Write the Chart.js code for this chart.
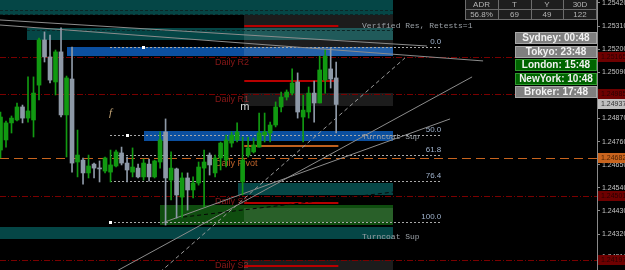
<!DOCTYPE html>
<html>
<head>
<meta charset="utf-8">
<script src="https://cdn.jsdelivr.net/npm/chart.js@4.4.1/dist/chart.umd.min.js"></script>
<style>
html, body { margin: 0; padding: 0; background: #000; }
#wrap { width: 625px; height: 270px; position: relative; }
</style>
</head>
<body>
<div id="wrap"><canvas id="chart"></canvas></div>
<script>
// candles, index 0 = leftmost bar on screen
var opens  = [1.24720,1.24768,1.24849,1.24863,1.24925,1.24872,1.24863,1.25029,1.25244,1.25163,
              1.25044,1.25187,1.24887,1.25058,1.24663,1.24672,1.24611,1.24653,1.24634,1.24620,
              1.24615,1.24644,1.24706,1.24658,1.24615,1.24634,1.24592,1.24653,1.24592,1.24663,
              1.24806,1.24577,1.24630,1.24496,1.24587,1.24530,1.24563,1.24634,1.24696,1.24611,
              1.24682,1.24672,1.24753,1.24768,1.24568,1.24696,1.24711,1.24734,1.24791,1.24801,
              1.24839,1.24925,1.24972,1.24991,1.25044,1.24877,1.24901,1.24991,1.24944,1.25053,
              1.25106,1.25063];
var highs  = [1.24901,1.24858,1.24882,1.24944,1.24934,1.25068,1.25068,1.25253,1.25282,1.25267,
              1.25196,1.25301,1.25072,1.25210,1.24815,1.24682,1.24696,1.24658,1.24668,1.24687,
              1.24720,1.24720,1.24734,1.24687,1.24730,1.24653,1.24677,1.24677,1.24672,1.24806,
              1.24868,1.24711,1.24634,1.24611,1.24611,1.24592,1.24663,1.24720,1.24706,1.24696,
              1.24758,1.24791,1.24806,1.24849,1.24782,1.24782,1.24777,1.24896,1.24896,1.24853,
              1.24949,1.24996,1.25006,1.25106,1.25087,1.24982,1.25020,1.25048,1.25167,1.25196,
              1.25206,1.25139];
var lows   = [1.24682,1.24734,1.24801,1.24858,1.24849,1.24853,1.24782,1.24958,1.25139,1.25039,
              1.24982,1.24877,1.24687,1.24615,1.24592,1.24558,1.24587,1.24587,1.24568,1.24611,
              1.24568,1.24639,1.24649,1.24568,1.24592,1.24587,1.24577,1.24572,1.24587,1.24634,
              1.24363,1.24482,1.24396,1.24401,1.24434,1.24492,1.24553,1.24449,1.24601,1.24592,
              1.24625,1.24639,1.24734,1.24758,1.24506,1.24687,1.24706,1.24734,1.24758,1.24758,
              1.24830,1.24901,1.24958,1.24982,1.24872,1.24758,1.24872,1.24853,1.24944,1.24991,
              1.25015,1.24801];
var closes = [1.24877,1.24849,1.24872,1.24925,1.24872,1.24906,1.24991,1.25244,1.25163,1.25053,
              1.25187,1.24887,1.25063,1.24658,1.24696,1.24611,1.24644,1.24634,1.24630,1.24682,
              1.24649,1.24711,1.24658,1.24625,1.24639,1.24592,1.24658,1.24592,1.24668,1.24768,
              1.24587,1.24634,1.24506,1.24587,1.24530,1.24563,1.24639,1.24663,1.24649,1.24682,
              1.24753,1.24768,1.24791,1.24806,1.24672,1.24730,1.24744,1.24801,1.24806,1.24839,
              1.24925,1.24972,1.24996,1.25039,1.24901,1.24910,1.24991,1.24944,1.25101,1.25167,
              1.25058,1.24937];

var priceTicks = [1.25420,1.25310,1.25200,1.25090,1.24980,1.24870,1.24760,1.24650,1.24540,1.24430,1.24320,1.24210];

// daily pivots
var pivotNames  = ['Daily R2','Daily R1','Daily Pivot','Daily S1','Daily S2'];
var pivotLevels = [1.25165,1.24985,1.24682,1.24501,1.24197];

// fibonacci retracement
var fibRatios = [0.0,50.0,61.8,76.4,100.0];
var fibHigh = 1.25210, fibLow = 1.24377;

// supply / demand zones: [fromBar, toBar, top, bottom]
var tealZones  = [[-1,71.4,1.25460,1.25363],[4.8,71.4,1.25301,1.25244],[43.2,71.4,1.24563,1.24506],[-1,71.4,1.24353,1.24296]];
var blueZones  = [[12.1,71.4,1.25210,1.25167],[26.1,71.4,1.24810,1.24763]];
var greenZones = [[29,71.4,1.24458,1.24363]];
var rangeBoxes = [[44.3,71.4,1.25363,1.25167],[44.3,71.4,1.24991,1.24929],[44.3,71.4,1.24444,1.24377],[44.3,71.4,1.24196,1.24100]];
var redMarks   = [1.25310,1.25048,1.24468,1.24168];
var orangeMark = 1.24739;

// trend lines: [bar0, price0, bar1, price1]
var solidLines  = [[-0.1,1.25315,87.7,1.25144],[-0.1,1.25339,77.5,1.25215],[18.1,1.24101,85.7,1.25068],[29.4,1.24373,81.7,1.24868]];
var dashedLines = [[29,1.24139,73.5,1.25158]];
var darkDashed  = [[33.2,1.24401,71.4,1.24520]];

var axisMarkers = [
    {price: 1.25165, bg: '#6e0000', fg: '#2a0000'},
    {price: 1.24985, bg: '#6e0000', fg: '#2a0000'},
    {price: 1.24937, bg: '#c0c0c0', fg: '#303030'},
    {price: 1.24682, bg: '#c8641e', fg: '#4a2000'},
    {price: 1.24501, bg: '#6e0000', fg: '#2a0000'},
    {price: 1.24197, bg: '#6e0000', fg: '#2a0000'}
];

var adrHead = ['ADR','T','Y','30D'];
var adrVals = ['56.8%','69','49','122'];
var sessions = ['Sydney: 00:48','Tokyo: 23:48','London: 15:48','NewYork: 10:48','Broker: 17:48'];
var sessionOpen = [false,false,true,true,false];

var UP = '#129a12', DOWN = '#8e99a7';
function candleColor(c) {
    var i = c.dataIndex;
    return closes[i] >= opens[i] ? UP : DOWN;
}

function X(chart, v) { return chart.scales.x.getPixelForValue(v); }
function Y(chart, v) { return chart.scales.y.getPixelForValue(v); }

function hline(ctx, x0, x1, y, color, w, dash) {
    ctx.beginPath();
    ctx.setLineDash(dash || []);
    ctx.strokeStyle = color;
    ctx.lineWidth = w;
    var yy = w % 2 ? Math.round(y) + 0.5 : Math.round(y);
    ctx.moveTo(x0, yy);
    ctx.lineTo(x1, yy);
    ctx.stroke();
    ctx.setLineDash([]);
}

function fillZone(chart, z, color) {
    var ctx = chart.ctx;
    var x0 = X(chart, z[0]), x1 = X(chart, z[1]);
    var y0 = Y(chart, z[2]), y1 = Y(chart, z[3]);
    ctx.fillStyle = color;
    ctx.fillRect(Math.round(x0), Math.round(y0), Math.round(x1) - Math.round(x0), Math.round(y1) - Math.round(y0));
}

var overlay = {
    id: 'overlay',
    beforeDatasetsDraw(chart) {
        var ctx = chart.ctx, a = chart.chartArea;
        var xr = X(chart, 108.4);
        ctx.save();
        ctx.beginPath();
        ctx.rect(a.left, a.top, a.right - a.left, a.bottom - a.top);
        ctx.clip();

        // pivot labels sit under the zones
        ctx.textBaseline = 'top';
        ctx.textAlign = 'left';
        ctx.font = '9px "Liberation Sans", Arial, sans-serif';
        pivotNames.forEach(function (n, k) {
            ctx.fillStyle = n == 'Daily Pivot' ? '#c0642a' : '#8a1818';
            ctx.fillText(n, X(chart, 39), Y(chart, pivotLevels[k]) + 1);
        });

        tealZones.forEach(function (z) { fillZone(chart, z, '#054646'); });
        blueZones.forEach(function (z) { fillZone(chart, z, '#0b4f9f'); });
        greenZones.forEach(function (z) { fillZone(chart, z, '#0f4d0f'); });
        rangeBoxes.forEach(function (z) { fillZone(chart, z, 'rgba(255,255,255,0.11)'); });

        // dotted edges inside the top zones
        hline(ctx, 0, X(chart, 71.4), Y(chart, 1.25386), '#0c2626', 1, [3, 2]);
        hline(ctx, 0, X(chart, 71.4), Y(chart, 1.25367), '#0c2626', 1, [3, 2]);
        hline(ctx, X(chart, 4.8), X(chart, 71.4), Y(chart, 1.25292), '#0c2626', 1, [3, 2]);

        // pivots across the whole chart
        pivotLevels.forEach(function (p, k) {
            if (pivotNames[k] == 'Daily Pivot') hline(ctx, 0, xr, Y(chart, p), '#c8641e', 1, [9, 5]);
            else hline(ctx, 0, xr, Y(chart, p), '#7a0000', 1, [6, 2, 1, 2]);
        });

        // short session levels
        redMarks.forEach(function (p) { hline(ctx, X(chart, 44.3), X(chart, 61.4), Y(chart, p), '#b80000', 2); });
        hline(ctx, X(chart, 44.3), X(chart, 61.4), Y(chart, orangeMark), '#c0601e', 2);

        // fibonacci
        ctx.font = '8px "Liberation Sans", Arial, sans-serif';
        ctx.textAlign = 'right';
        ctx.textBaseline = 'bottom';
        fibRatios.forEach(function (r) {
            var p = fibHigh - (fibHigh - fibLow) * r / 100;
            var y = Y(chart, p);
            hline(ctx, X(chart, 19.9), X(chart, 80.1), y, '#a8a8a8', 1, [2, 2]);
            ctx.fillStyle = '#9fb2cc';
            ctx.fillText(r.toFixed(1), X(chart, 80.1), y - 1);
        });
        ctx.fillStyle = '#ffffff';
        [[25.9, fibHigh], [23, fibHigh - (fibHigh - fibLow) * 0.5], [19.9, fibLow]].forEach(function (m) {
            ctx.fillRect(Math.round(X(chart, m[0])) - 1, Math.round(Y(chart, m[1])) - 1, 3, 3);
        });

        // trend lines
        function seg(l, color, dash) {
            ctx.beginPath();
            ctx.setLineDash(dash);
            ctx.strokeStyle = color;
            ctx.lineWidth = 1;
            ctx.moveTo(X(chart, l[0]), Y(chart, l[1]));
            ctx.lineTo(X(chart, l[2]), Y(chart, l[3]));
            ctx.stroke();
            ctx.setLineDash([]);
        }
        solidLines.forEach(function (l) { seg(l, '#8c8c8c', []); });
        dashedLines.forEach(function (l) { seg(l, '#9a9a9a', [4, 3]); });
        darkDashed.forEach(function (l) { seg(l, '#050505', [4, 3]); });

        // zone captions
        ctx.font = '8px "Liberation Mono", "DejaVu Sans Mono", monospace';
        ctx.textAlign = 'left';
        ctx.textBaseline = 'middle';
        ctx.fillStyle = '#9aa0a6';
        ctx.fillText('Verified Res, Retests=1', X(chart, 65.7), Y(chart, 1.25310));
        ctx.fillText('Turncoat Sup', X(chart, 65.7), Y(chart, 1.24782));
        ctx.fillText('Turncoat Sup', X(chart, 65.7), Y(chart, 1.24306));

        // fractal letters
        ctx.textAlign = 'center';
        ctx.font = 'italic 11px "Liberation Serif", serif';
        ctx.fillStyle = '#c8a878';
        ctx.fillText('f', X(chart, 20), Y(chart, 1.24896));
        ctx.font = '11px "Liberation Sans", Arial, sans-serif';
        ctx.fillStyle = '#d8d8d8';
        ctx.fillText('m', X(chart, 44.4), Y(chart, 1.24927));
        ctx.restore();
    },
    afterDraw(chart) {
        var ctx = chart.ctx;
        ctx.save();
        // price markers on the axis
        ctx.font = '7px "Liberation Sans", Arial, sans-serif';
        ctx.textAlign = 'left';
        ctx.textBaseline = 'middle';
        axisMarkers.forEach(function (m) {
            var y = Math.round(Y(chart, m.price));
            ctx.fillStyle = m.bg;
            ctx.fillRect(598, y - 5, 27, 10);
            ctx.fillStyle = m.fg;
            ctx.fillText(m.price.toFixed(5), 601, y + 0.5);
        });

        // ADR table
        var cols = [465, 498, 531, 563, 597];
        ctx.font = '8px "Liberation Sans", Arial, sans-serif';
        ctx.fillStyle = '#1e1e1e';
        ctx.fillRect(465, 0, 132, 20);
        ctx.strokeStyle = '#6c6c6c';
        ctx.lineWidth = 1;
        ctx.strokeRect(465.5, -0.5, 131, 10);
        ctx.strokeRect(465.5, 9.5, 131, 10);
        for (var c = 1; c < 4; c++) {
            ctx.beginPath();
            ctx.moveTo(cols[c] + 0.5, 0);
            ctx.lineTo(cols[c] + 0.5, 20);
            ctx.stroke();
        }
        ctx.textAlign = 'center';
        ctx.fillStyle = '#b4b4b4';
        for (c = 0; c < 4; c++) {
            var cx = (cols[c] + cols[c + 1]) / 2;
            ctx.fillText(adrHead[c], cx, 5);
            ctx.fillText(adrVals[c], cx, 15);
        }

        // session clocks
        ctx.font = 'bold 10px "Liberation Sans", Arial, sans-serif';
        sessions.forEach(function (s, k) {
            var top = 32 + k * 13.5;
            ctx.fillStyle = sessionOpen[k] ? '#006400' : '#7f7f7f';
            ctx.fillRect(515, Math.round(top), 82, 12);
            ctx.strokeStyle = sessionOpen[k] ? '#2f9a2f' : '#a6a6a6';
            ctx.strokeRect(515.5, Math.round(top) + 0.5, 81, 11);
            ctx.fillStyle = '#f2f2f2';
            ctx.fillText(s, 556, Math.round(top) + 6.5);
        });
        ctx.restore();
    }
};

var xs = opens.map(function (o, i) { return i; });

new Chart(document.getElementById('chart').getContext('2d'), {
    type: 'bar',
    data: {
        datasets: [
            {
                label: 'wick',
                data: xs.map(function (i) { return {x: i, y: [lows[i], highs[i]]}; }),
                backgroundColor: candleColor,
                barThickness: 1,
                grouped: false,
                borderWidth: 0
            },
            {
                label: 'body',
                data: xs.map(function (i) { return {x: i, y: [opens[i], closes[i]]}; }),
                backgroundColor: candleColor,
                barThickness: 4,
                minBarLength: 1,
                grouped: false,
                borderWidth: 0
            }
        ]
    },
    options: {
        responsive: true,
        maintainAspectRatio: false,
        animation: false,
        layout: { padding: 0 },
        plugins: {
            legend: { display: false },
            tooltip: { enabled: false }
        },
        scales: {
            x: {
                type: 'linear',
                min: -0.09,
                max: 108.4,
                offset: false,
                display: false
            },
            y: {
                type: 'linear',
                position: 'right',
                min: 1.24149,
                max: 1.25434,
                afterBuildTicks: function (s) {
                    s.ticks = priceTicks.map(function (v) { return {value: v}; });
                },
                afterFit: function (s) {
                    s.width = 28;
                    s.paddingTop = 0;
                    s.paddingBottom = 0;
                },
                border: { display: true, color: '#8a8a8a' },
                grid: { display: true, drawOnChartArea: false, drawTicks: true, tickLength: 3, color: '#8a8a8a' },
                ticks: {
                    color: '#c4c4c4',
                    padding: 2,
                    autoSkip: false,
                    font: { size: 7, family: '"Liberation Sans", Arial, sans-serif' },
                    callback: function (v) { return v.toFixed(5); }
                }
            }
        }
    },
    plugins: [overlay]
});
</script>
</body>
</html>
